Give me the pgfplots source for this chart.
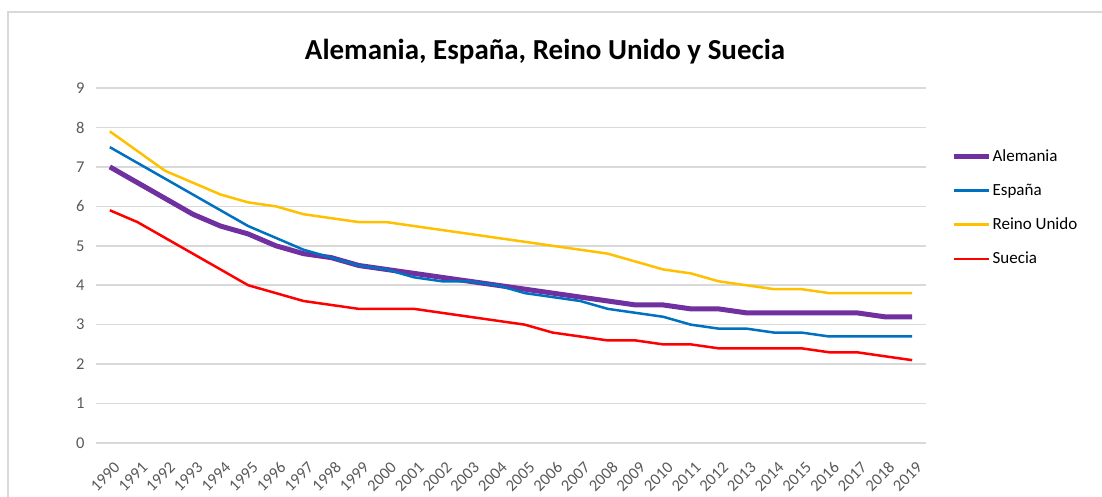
\documentclass[border=0pt]{standalone}
\usepackage{pgfplots}
\pgfplotsset{compat=1.18}
\usepackage{pgfplotstable}
\usepackage{fontspec}
\setmainfont{Carlito}
\definecolor{cAl}{HTML}{7030A0}
\definecolor{cEs}{HTML}{0070C0}
\definecolor{cRu}{HTML}{FFC000}
\definecolor{cSu}{HTML}{FF0000}
\definecolor{cGrid}{HTML}{D9D9D9}
\definecolor{cTick}{HTML}{595959}
\pgfplotstableread{
Year AL ES RU SU
1990 7.0 7.5 7.9 5.9
1991 6.6 7.1 7.4 5.6
1992 6.2 6.7 6.9 5.2
1993 5.8 6.3 6.6 4.8
1994 5.5 5.9 6.3 4.4
1995 5.3 5.5 6.1 4.0
1996 5.0 5.2 6.0 3.8
1997 4.8 4.9 5.8 3.6
1998 4.7 4.7 5.7 3.5
1999 4.5 4.5 5.6 3.4
2000 4.4 4.4 5.6 3.4
2001 4.3 4.2 5.5 3.4
2002 4.2 4.1 5.4 3.3
2003 4.1 4.1 5.3 3.2
2004 4.0 4.0 5.2 3.1
2005 3.9 3.8 5.1 3.0
2006 3.8 3.7 5.0 2.8
2007 3.7 3.6 4.9 2.7
2008 3.6 3.4 4.8 2.6
2009 3.5 3.3 4.6 2.6
2010 3.5 3.2 4.4 2.5
2011 3.4 3.0 4.3 2.5
2012 3.4 2.9 4.1 2.4
2013 3.3 2.9 4.0 2.4
2014 3.3 2.8 3.9 2.4
2015 3.3 2.8 3.9 2.4
2016 3.3 2.7 3.8 2.3
2017 3.3 2.7 3.8 2.3
2018 3.2 2.7 3.8 2.2
2019 3.2 2.7 3.8 2.1
}\datatable
\begin{document}
\begin{tikzpicture}
\path[use as bounding box] (0pt,0pt) rectangle (1102pt,497pt);
\draw[cGrid, line width=1.5pt] (8pt,0pt) -- (8pt,485pt) -- (1102pt,485pt);
\node[anchor=base, font=\fontsize{29}{34}\selectfont\bfseries] at (545pt,437pt) {Alemania, España, Reino Unido y Suecia};
\begin{axis}[
  at={(96pt,54pt)}, anchor=south west,
  scale only axis, width=830pt, height=355pt,
  xmin=1989.5, xmax=2019.5, ymin=0, ymax=9,
  xtick={1990,1991,...,2019}, ytick={0,1,...,9},
  axis line style={draw=none},
  major tick length=0pt,
  ymajorgrids, grid style={cGrid, line width=1.5pt},
  /pgf/number format/assume math mode=true,
  /pgf/number format/1000 sep={},
  tick label style={font=\fontsize{16.5}{19}\selectfont, text=cTick},
  yticklabel style={xshift=-8pt},
  xticklabel style={xshift=8pt, yshift=-21pt, rotate=45, anchor=east, inner sep=1pt},
  clip=false,
  legend style={at={(1.027,0.835)}, anchor=north west, draw=none, fill=none,
    font=\fontsize{17}{20}\selectfont, row sep=19pt,
    nodes={inner sep=1pt}},
  legend cell align=left,
  legend image code/.code={\draw[#1] (0pt,0pt) -- (35pt,0pt);},
]
\addplot[cAl, line width=5pt, line join=round] table[x=Year, y=AL] {\datatable};
\addlegendentry{Alemania}
\addplot[cEs, line width=2.5pt, line join=round] table[x=Year, y=ES] {\datatable};
\addlegendentry{España}
\addplot[cRu, line width=2.5pt, line join=round] table[x=Year, y=RU] {\datatable};
\addlegendentry{Reino Unido}
\addplot[cSu, line width=2.5pt, line join=round] table[x=Year, y=SU] {\datatable};
\addlegendentry{Suecia}
\end{axis}
\end{tikzpicture}
\end{document}
